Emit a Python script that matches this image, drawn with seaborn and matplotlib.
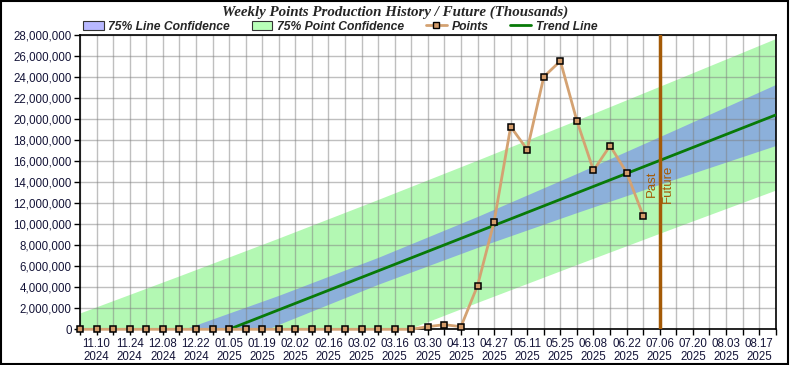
import matplotlib
matplotlib.use("Agg")
import matplotlib.pyplot as plt
from matplotlib.patches import Patch, Rectangle
from matplotlib.lines import Line2D
from matplotlib.ticker import FuncFormatter
import seaborn as sns
import pandas as pd

# ── Data ───────────────────────────────────────────────────────────────────
week_dates = pd.date_range("2024-11-03", periods=43, freq="7D")

# weekly points (index 0 = 2024-11-03)
points = [0, 0, 0, 0, 0, 0, 0, 0, 0, 0, 0, 0, 0, 0, 0, 0, 0, 0, 0, 0, 0,
          250_000, 440_000, 250_000, 4_150_000, 10_230_000, 19_260_000,
          17_080_000, 24_000_000, 25_500_000, 19_800_000, 15_100_000,
          17_450_000, 14_900_000, 10_800_000]

# trend line end points (week index -> value)
trend_weeks = [0, 42]
trend_vals = [-5_560_000, 20_370_000]

# confidence bands read at every 6th week
band_weeks = [0, 6, 12, 18, 24, 30, 36, 42]
line_upper = [-3_380_000, -140_000, 3_230_000, 6_840_000, 10_730_000, 14_820_000, 19_020_000, 23_270_000]
line_lower = [-7_740_000, -3_560_000, 470_000, 4_280_000, 7_790_000, 11_100_000, 14_320_000, 17_470_000]
point_upper = [1_490_000, 5_020_000, 8_610_000, 12_280_000, 16_020_000, 19_820_000, 23_680_000, 27_570_000]
point_lower = [-12_610_000, -8_720_000, -4_910_000, -1_160_000, 2_500_000, 6_100_000, 9_660_000, 13_170_000]

split_week = 35  # 07.06.2025: past / future

TITLE = "Weekly Points Production History / Future (Thousands)"

# ── Style ──────────────────────────────────────────────────────────────────
sns.set_theme(style="white")
plt.rcParams["font.family"] = ["Liberation Sans", "DejaVu Sans"]

C_GREEN_BAND = "#b3f8b3"
C_BLUE_BAND = "#8cb0da"
C_POINTS = "#d4a272"
C_MARKER = "#d49c6a"
C_TREND = "#087a08"
C_SPLIT = "#a45a06"
C_TICK = "#141438"

fig = plt.figure(figsize=(7.9, 3.65), dpi=100)
ax = fig.add_axes([80 / 790, 1 - 329.3 / 365, 695.7 / 790, 294.6 / 365])

ax.fill_between(band_weeks, point_lower, point_upper, color=C_GREEN_BAND, lw=0, zorder=0.2)
ax.fill_between(band_weeks, line_lower, line_upper, color=C_BLUE_BAND, lw=0, zorder=0.3)

sns.lineplot(x=trend_weeks, y=trend_vals, ax=ax, color=C_TREND, lw=2, zorder=3)
sns.lineplot(x=list(range(len(points))), y=points, ax=ax, color=C_POINTS, lw=2,
             marker="s", markersize=5, markerfacecolor=C_MARKER,
             markeredgecolor="black", markeredgewidth=1.1, clip_on=False, zorder=5)

ax.axvline(split_week, color=C_SPLIT, lw=2.5, zorder=4)
ax.text(split_week - 0.5, 13_800_000, "Past", rotation=90, ha="center", va="center",
        color=C_SPLIT, fontsize=9.5, zorder=6)
ax.text(split_week + 0.5, 13_800_000, "Future", rotation=90, ha="center", va="center",
        color=C_SPLIT, fontsize=9.5, zorder=6)

ax.set_xlim(0, 42)
ax.set_ylim(0, 28_000_000)
ax.set_xticks(range(43))
ax.set_xticklabels([f"{d:%m.%d}\n{d:%Y}" if i % 2 == 1 else "" for i, d in enumerate(week_dates)])
ax.set_yticks(range(0, 28_000_001, 2_000_000))
ax.yaxis.set_major_formatter(FuncFormatter(lambda v, _: f"{v:,.0f}"))
ax.tick_params(axis="both", which="major", length=4, width=1, color="black",
               labelsize=8.3, labelcolor=C_TICK, direction="out", bottom=True, left=True, pad=2)
ax.set_xlabel("")
ax.set_ylabel("")

ax.set_axisbelow(True)
ax.grid(True, color="#808080", alpha=0.5, lw=1)
for s in ax.spines.values():
    s.set_color("black")
    s.set_linewidth(1.2)

# ── Title & legend ─────────────────────────────────────────────────────────
fig.text(0.5, 1 - 12.5 / 365, TITLE, ha="center", va="center",
         family="Liberation Serif", weight="bold", style="italic", fontsize=10.8)

handles = [
    Patch(facecolor="#b8b8ff", edgecolor="#333333", lw=0.8),
    Patch(facecolor="#b8ffb8", edgecolor="#333333", lw=0.8),
    Line2D([], [], color=C_POINTS, lw=2, marker="s", markersize=5,
           markerfacecolor=C_MARKER, markeredgecolor="black"),
    Line2D([], [], color=C_TREND, lw=2),
]
labels = ["75% Line Confidence", "75% Point Confidence", "Points", "Trend Line"]
fig.legend(handles, labels, loc="center left", bbox_to_anchor=(83 / 790, 1 - 26.5 / 365),
           ncol=4, frameon=False, handlelength=1.7, handleheight=0.8,
           handletextpad=0.4, columnspacing=1.8, borderpad=0, borderaxespad=0,
           prop={"family": "Liberation Sans", "weight": "bold", "style": "italic", "size": 8.7})

fig.add_artist(Rectangle((0.001, 0.002), 0.997, 0.996, transform=fig.transFigure,
                         fill=False, edgecolor="black", lw=1.5))

fig.savefig("out.png", dpi=100)
plt.close()
